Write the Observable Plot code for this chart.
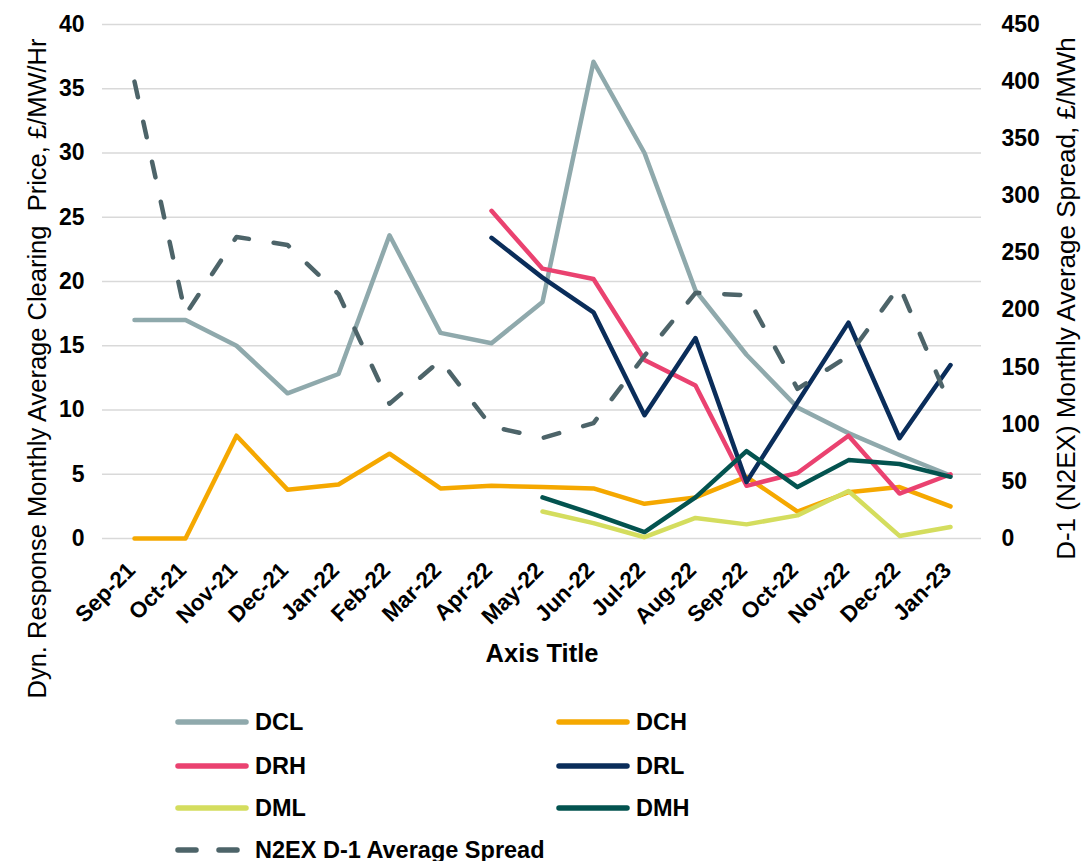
<!DOCTYPE html>
<html><head><meta charset="utf-8">
<script src="https://cdn.jsdelivr.net/npm/d3@7"></script>
<script src="https://cdn.jsdelivr.net/npm/@observablehq/plot@0.6"></script>
<style>
body{margin:0;background:#fff;font-family:"Liberation Sans",Arial,sans-serif;}
#wrap{position:relative;width:1081px;height:861px;overflow:hidden;}
.leg{position:absolute;height:30px;display:flex;align-items:center;font-weight:bold;font-size:23.5px;color:#000;white-space:nowrap;}
.leg svg{margin-right:5px;}
</style></head><body><div id="wrap"></div>
<script>
const months = ["Sep-21","Oct-21","Nov-21","Dec-21","Jan-22","Feb-22","Mar-22","Apr-22","May-22","Jun-22","Jul-22","Aug-22","Sep-22","Oct-22","Nov-22","Dec-22","Jan-23"];
const seriesNames = ["DCL","DCH","DRH","DRL","DML","DMH"];
const seriesColors = ["#8FA9AC","#F5A800","#EA4270","#0A2D5A","#D4DD5E","#03534F"];
const dcl = [17.0,17.0,15.0,11.3,12.8,23.6,16.0,15.2,18.4,37.1,30.0,19.3,14.3,10.2,8.2,6.5,4.9];
const dch = [0,0,8.0,3.8,4.2,6.6,3.9,4.1,4.0,3.9,2.7,3.2,4.8,2.1,3.6,4.0,2.5];
const drh = [null,null,null,null,null,null,null,25.5,21.0,20.2,13.9,11.9,4.1,5.1,8.0,3.5,5.0];
const drl = [null,null,null,null,null,null,null,23.4,20.3,17.6,9.6,15.6,4.4,10.6,16.8,7.8,13.5];
const dml = [null,null,null,null,null,null,null,null,2.1,1.2,0.1,1.6,1.1,1.8,3.7,0.2,0.9];
const dmh = [null,null,null,null,null,null,null,null,3.2,1.9,0.5,3.2,6.8,4.0,6.1,5.8,4.8];
const spreadName = "N2EX D-1 Average Spread";
const spreadColor = "#4D6469";
const n2ex = [400,196,264,257,214,118,156,98,88,101,160,215,213,131,160,221,116];
const leftTicks = [0,5,10,15,20,25,30,35,40];
const rightTicks = [0,50,100,150,200,250,300,350,400,450];
const leftTitle = "Dyn. Response Monthly Average Clearing  Price, £/MW/Hr";
const rightTitle = "D-1 (N2EX) Monthly Average Spread, £/MWh";
const xTitle = "Axis Title";

const K = 40 / 450; // secondary axis mapped onto primary scale
const seriesData = [dcl, dch, drh, drl, dml, dmh];

const lineMarks = seriesData.map((arr, i) => {
  const d = arr.map((v, j) => ({month: months[j], value: v})).filter(r => r.value != null);
  return Plot.line(d, {x: "month", y: "value", stroke: seriesColors[i], strokeWidth: 4.5,
    strokeLinejoin: "round", strokeLinecap: "round"});
});
const spreadData = n2ex.map((v, j) => ({month: months[j], value: v}));

const chart = Plot.plot({
  width: 1081, height: 700,
  marginTop: 24, marginBottom: 162, marginLeft: 102, marginRight: 100,
  x: {type: "point", domain: months, padding: 0.5},
  y: {domain: [0, 40]},
  style: {fontFamily: '"Liberation Sans", Arial, sans-serif', fontSize: "23px", background: "white", color: "#000", overflow: "visible"},
  marks: [
    Plot.gridY(leftTicks, {stroke: "#D9D9D9", strokeOpacity: 1, strokeWidth: 1.5}),
    Plot.axisY({anchor: "left", ticks: leftTicks, tickSize: 0, tickPadding: 18, label: null, fontWeight: "bold", fontSize: 23}),
    Plot.axisY({anchor: "right", ticks: rightTicks.map(v => v * K), tickFormat: d => String(Math.round(d / K)), tickSize: 0, tickPadding: 20, label: null, fontWeight: "bold", fontSize: 23}),
    Plot.axisX({tickRotate: -45, tickSize: 0, tickPadding: 28, dx: -3, label: null, fontWeight: "bold", fontSize: 22.5}),
    ...lineMarks,
    Plot.line(spreadData, {x: "month", y: d => d.value * K, stroke: spreadColor, strokeWidth: 4.5,
      strokeDasharray: "16,25", strokeLinecap: "round", strokeLinejoin: "round"}),
    Plot.text([leftTitle], {frameAnchor: "left", textAnchor: "middle", text: d => d, rotate: -90, dx: -65, dy: 87, fontSize: 25.5, fill: "#000"}),
    Plot.text([rightTitle], {frameAnchor: "right", textAnchor: "middle", text: d => d, rotate: -90, dx: 85, dy: 17, fontSize: 26, fill: "#000"}),
    Plot.text([xTitle], {frameAnchor: "bottom", textAnchor: "middle", text: d => d, dy: 123, fontSize: 25.5, fontWeight: "bold", fill: "#000"})
  ]
});
const wrap = document.getElementById("wrap");
wrap.appendChild(chart);

// Legend
const legendItems = seriesNames.map((n, i) => ({name: n, color: seriesColors[i], dash: null}))
  .concat([{name: spreadName, color: spreadColor, dash: "18,23"}]);
const rowsY = [722, 766, 808, 850];
const colsX = [174, 555];
legendItems.forEach((it, i) => {
  const row = Math.floor(i / 2), col = i % 2;
  const div = document.createElement("div");
  div.className = "leg";
  div.style.left = colsX[col] + "px";
  div.style.top = (rowsY[row] - 15) + "px";
  const ns = "http://www.w3.org/2000/svg";
  const s = document.createElementNS(ns, "svg");
  s.setAttribute("width", "76"); s.setAttribute("height", "12");
  const l = document.createElementNS(ns, "line");
  l.setAttribute("x1", "4"); l.setAttribute("x2", "72"); l.setAttribute("y1", "6"); l.setAttribute("y2", "6");
  l.setAttribute("stroke", it.color); l.setAttribute("stroke-width", "5.5"); l.setAttribute("stroke-linecap", "round");
  if (it.dash) l.setAttribute("stroke-dasharray", it.dash);
  s.appendChild(l);
  div.appendChild(s);
  const t = document.createElement("span");
  t.textContent = it.name;
  div.appendChild(t);
  wrap.appendChild(div);
});
</script></body></html>
